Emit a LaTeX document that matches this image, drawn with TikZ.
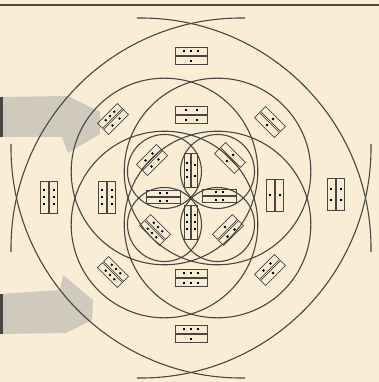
\documentclass[tikz,border=0pt]{standalone}
\usetikzlibrary{calc}
\definecolor{paper}{RGB}{250,237,214}
\definecolor{ink}{RGB}{72,70,66}
\definecolor{arrowgrey}{RGB}{208,201,189}
\newcommand\dt{\rule{2pt}{2pt}}
\newcommand\domino[8]{%
  \begin{scope}[shift={(#4,#5)},rotate=#6]
    \node[#1,rotate=#6] (#3a) at (0,-#2) {#7};
    \node[#1,rotate=#6] (#3b) at (0,#2) {#8};
  \end{scope}}
\tikzset{ring/.style={draw=ink,line width=1.1pt},
  cell/.style={draw=ink,line width=0.7pt,minimum width=32pt,minimum height=8pt,inner sep=0pt},
  diagcell/.style={cell,minimum width=28pt,minimum height=7pt},
  lenscell/.style={cell,minimum width=34pt,minimum height=6pt}}

\begin{document}
\begin{tikzpicture}[x=1pt,y=-1pt]
          \useasboundingbox[fill=paper] (0,0) rectangle (379,382);
          \coordinate (O) at (191,198);
          \fill[arrowgrey] (0,97) -- (68,96) -- (100,112) -- (100,134) -- (68,153) -- (62,137) -- (0,137) -- cycle;
          \fill[arrowgrey] (0,294) -- (60,290) -- (63,275) -- (93,300) -- (92,320) -- (66,333) -- (0,334) -- cycle;
          \fill[ink] (0,97) rectangle (3,137);
          \fill[ink] (0,294) rectangle (3,334);
          \draw[ink,line width=1.2pt] (0,5) -- (379,5);
          \foreach \a in {45,135,225,315} {
            \draw[ring] (O) ++(\a:37.5) circle (37);
            \draw[ring] (O) ++(\a:37.5) circle (93.3);
            \draw[ring,domain=\a-46:\a+46,samples=60,variable=\t,smooth]
              plot ({191-70.7*cos(\a)+230*cos(\t)},{198-70.7*sin(\a)+230*sin(\t)});
          }
          \domino{cell}{4.8}{top}{191}{56}{0}{\dt\hspace{5pt}\dt\hspace{5pt}\dt}{\dt}
          \domino{cell}{4.8}{upm}{191}{115}{0}{\dt\hspace{9pt}\dt}{\dt\hspace{9pt}\dt}
          \domino{cell}{4.8}{lom}{191}{278}{0}{\dt\hspace{5pt}\dt\hspace{5pt}\dt}{\dt\hspace{5pt}\dt\hspace{5pt}\dt}
          \domino{cell}{4.8}{bot}{191}{334}{0}{\dt\hspace{5pt}\dt\hspace{5pt}\dt}{\dt}
          \domino{cell}{4.8}{lft}{49}{197}{90}{\dt\hspace{5pt}\dt\hspace{5pt}\dt}{\dt\hspace{5pt}\dt\hspace{5pt}\dt}
          \domino{cell}{4.8}{lfm}{107}{197}{90}{\dt\hspace{5pt}\dt\hspace{5pt}\dt}{\dt\hspace{5pt}\dt\hspace{5pt}\dt}
          \domino{cell}{4.8}{rtm}{275}{195}{90}{\dt}{\dt}
          \domino{cell}{4.8}{rgt}{336}{194}{90}{\dt\hspace{9pt}\dt}{\dt\hspace{9pt}\dt}
          \domino{diagcell}{4.3}{ulo}{113}{119}{45}{\dt\hspace{4pt}\dt\hspace{4pt}\dt}{\dt\hspace{8pt}\dt}
          \domino{diagcell}{4.3}{uro}{270}{122}{-45}{\dt}{\dt}
          \domino{diagcell}{4.3}{llo}{113}{272}{-45}{\dt\hspace{4pt}\dt\hspace{4pt}\dt}{\dt\hspace{4pt}\dt\hspace{4pt}\dt}
          \domino{diagcell}{4.3}{lro}{270}{270}{45}{\dt\hspace{8pt}\dt}{\dt}
          \domino{diagcell}{4.3}{uli}{152}{160}{45}{\dt\hspace{8pt}\dt}{\dt\hspace{8pt}\dt}
          \domino{diagcell}{4.3}{uri}{230}{158}{-45}{\dt}{\dt}
          \domino{diagcell}{4.3}{lli}{155}{230}{-45}{\dt\hspace{4pt}\dt\hspace{4pt}\dt}{\dt\hspace{4pt}\dt\hspace{4pt}\dt}
          \domino{diagcell}{4.3}{lri}{228}{230}{45}{\dt}{\dt\hspace{8pt}\dt}
          \domino{lenscell}{3.6}{tln}{191}{170}{90}{\dt\hspace{5pt}\dt\hspace{5pt}\dt}{\dt\hspace{9pt}\dt}
          \domino{lenscell}{3.6}{bln}{191}{222}{90}{\dt\hspace{5pt}\dt\hspace{5pt}\dt}{\dt\hspace{5pt}\dt\hspace{5pt}\dt}
          \domino{lenscell}{3.6}{lln}{163}{197}{0}{\dt\hspace{5pt}\dt}{\dt\hspace{5pt}\dt}
          \domino{lenscell}{3.6}{rln}{219}{196}{0}{\dt\hspace{5pt}\dt}{\dt\hspace{5pt}\dt}
\end{tikzpicture}
\end{document}
